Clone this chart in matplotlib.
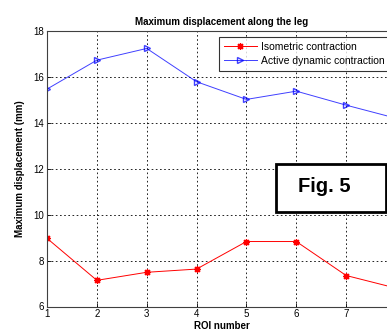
import matplotlib
matplotlib.use('Agg')
import matplotlib.pyplot as plt
from matplotlib.patches import Rectangle

plt.rcParams['font.family'] = ['Liberation Sans', 'DejaVu Sans']

roi = [1, 2, 3, 4, 5, 6, 7, 8]
isometric = [8.97, 7.14, 7.49, 7.63, 8.83, 8.83, 7.35, 6.8]
active_dynamic = [15.47, 16.73, 17.24, 15.79, 15.02, 15.38, 14.77, 14.2]
y_ticks = [6, 8, 10, 12, 14, 16, 18]
x_labels = ['1', '2', '3', '4', '5', '6', '7', '']  # 8 falls off the cropped picture

W, H = 387, 333
fig = plt.figure(figsize=(W / 100, H / 100), dpi=100)
# axes runs past the right edge of the picture (x = 8 is cut off)
ax = fig.add_axes([47 / W, (H - 306.5) / H, (396 - 47) / W, (306.5 - 31) / H])

l1, = ax.plot(roi, isometric, color='red', marker=(8, 2, 0), markersize=5,
              markeredgewidth=0.9, linewidth=0.7, label='Isometric contraction')
l2, = ax.plot(roi, active_dynamic, color='blue', marker='>', markersize=5,
              markerfacecolor='none', linewidth=0.7, alpha=0.75,
              label='Active dynamic contraction')

ax.set_xlim(1, 8)
ax.set_ylim(6, 18)
ax.set_xticks(roi)
ax.set_xticklabels(x_labels)
ax.set_yticks(y_ticks)
ax.tick_params(direction='in', labelsize=7, length=3, width=0.6, pad=2)
ax.grid(True, color='black', linestyle=(0, (2, 3)), linewidth=0.6)
for s in ax.spines.values():
    s.set_linewidth(0.8)
    s.set_color('#404040')

ax.set_title('Maximum displacement along the leg', fontsize=7, fontweight='bold', pad=4)
ax.set_xlabel('ROI number', fontsize=7, fontweight='bold', labelpad=1)
ax.set_ylabel('Maximum displacement (mm)', fontsize=7, fontweight='bold', labelpad=6)

leg = fig.legend(handles=[l1, l2], loc='upper left', bbox_to_anchor=(219 / W, 1 - 37 / H),
                 fontsize=7.5, frameon=True, fancybox=False, borderaxespad=0,
                 handlelength=3.2, handletextpad=0.35, borderpad=0.45, labelspacing=0.4)
leg.get_frame().set_edgecolor('black')
leg.get_frame().set_linewidth(0.8)

# "Fig. 5" label in a thick-bordered box
fig.patches.append(Rectangle((276 / W, 1 - 212 / H), 110 / W, 48 / H,
                             transform=fig.transFigure, facecolor='white',
                             edgecolor='black', linewidth=2, zorder=5))
fig.text(324 / W, 1 - 187 / H, 'Fig. 5', fontsize=14.5, fontweight='bold',
         ha='center', va='center', zorder=6)

fig.savefig('out.png', dpi=100)
